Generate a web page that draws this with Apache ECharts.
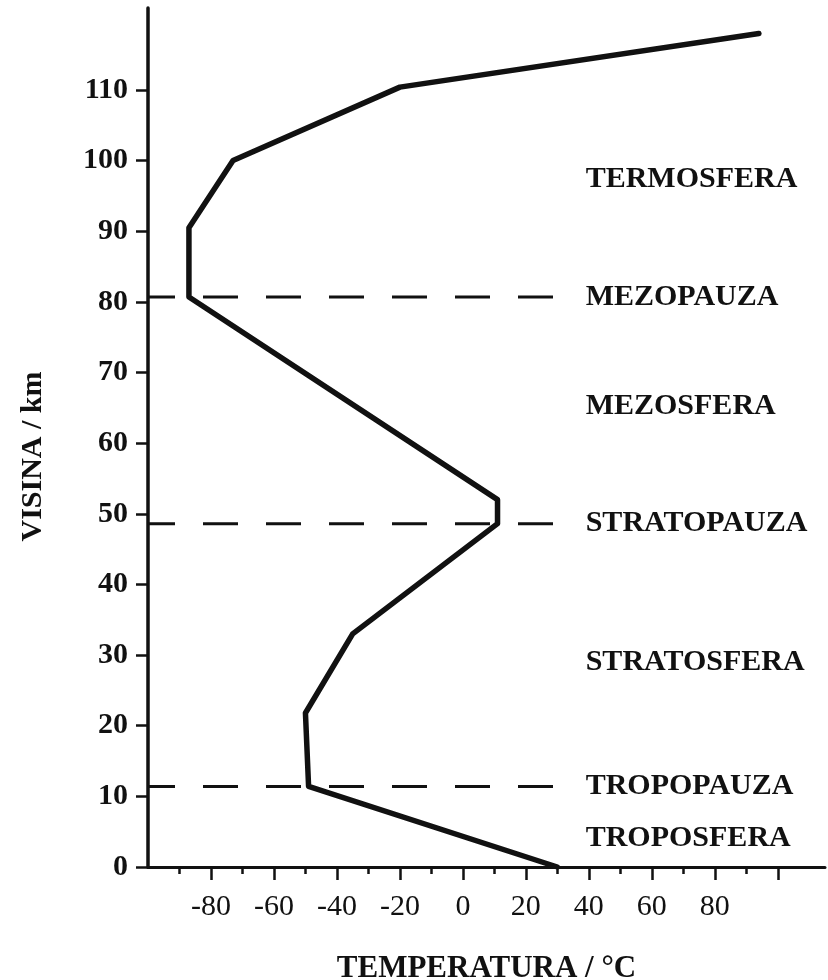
<!DOCTYPE html>
<html><head><meta charset="utf-8">
<script src="https://cdn.jsdelivr.net/npm/echarts@6/dist/echarts.min.js"></script>
<style>html,body{margin:0;padding:0;background:#fff}#c{width:828px;height:980px}</style>
</head><body><div id="c"></div>
<script>
// Temperature profile (°C) vs altitude (km)
const temperature = [30, -49, -50, -35, 11, 11, -87, -87, -73, -20, 94];
const altitude    = [0, 11.4, 21.8, 33, 48.6, 52, 80.7, 90.5, 100, 110.4, 118];

// Boundary (pause) lines
const pauseNames     = ['TROPOPAUZA', 'STRATOPAUZA', 'MEZOPAUZA'];
const pauseAltitudes = [11.4, 48.6, 80.7];

// Layer names
const layerNames     = ['TROPOSFERA', 'STRATOSFERA', 'MEZOSFERA', 'TERMOSFERA'];
const layerAltitudes = [4.1, 29, 65.2, 97.3];

// Ticks and labels
const yTicks      = [0, 10, 20, 30, 40, 50, 60, 70, 80, 90, 100, 110];
const xMinorTicks = [-90, -70, -50, -30, -10, 10, 30, 50, 70, 90];
const xMajorTicks = [-80, -60, -40, -20, 0, 20, 40, 60, 80, 100];
const xLabels     = [-80, -60, -40, -20, 0, 20, 40, 60, 80];

const FONT = "'Liberation Serif','Times New Roman',serif";
const INK = '#111';
const X_MIN = -100, X_MAX = 115, Y_MIN = 0, Y_MAX = 121.6;
const PAUSE_LINE_END = 34;
const LABEL_X = 39;

const chart = echarts.init(document.getElementById('c'), null, {renderer: 'canvas'});

const pauseSeries = pauseAltitudes.map((a, i) => ({
  type: 'line',
  name: pauseNames[i],
  xAxisIndex: 0, yAxisIndex: 0,
  data: [[X_MIN, a], [PAUSE_LINE_END, a]],
  showSymbol: false, symbol: 'none', silent: true,
  lineStyle: {color: INK, width: 3, type: [35, 28], dashOffset: 8},
  z: 2
}));

const labelData = pauseNames.map((n, i) => ({name: n, value: [LABEL_X, pauseAltitudes[i]]}))
  .concat(layerNames.map((n, i) => ({name: n, value: [LABEL_X, layerAltitudes[i]]})));

chart.setOption({
  backgroundColor: '#fff',
  animation: false,
  grid: {left: 148, right: 3, top: 8, bottom: 113, containLabel: false, outerBoundsMode: 'none'},
  xAxis: [{
    type: 'value', min: X_MIN, max: X_MAX, interval: 10, position: 'bottom',
    axisLine: {show: true, onZero: false, lineStyle: {color: INK, width: 3}},
    axisTick: {show: true, customValues: xMinorTicks, length: 7, lineStyle: {color: INK, width: 2.5}},
    axisLabel: {show: false},
    splitLine: {show: false}
  }, {
    type: 'value', min: X_MIN, max: X_MAX, interval: 10, position: 'bottom',
    axisLine: {show: false, onZero: false},
    axisTick: {show: true, customValues: xMajorTicks, length: 13, lineStyle: {color: INK, width: 2.5}},
    axisLabel: {show: true, customValues: xLabels, margin: 25, color: INK,
      fontFamily: FONT, fontSize: 30, fontWeight: 'normal'},
    splitLine: {show: false},
    name: 'TEMPERATURA / °C', nameLocation: 'middle', nameGap: 86,
    nameTextStyle: {color: INK, fontFamily: FONT, fontSize: 31, fontWeight: 'bold'}
  }],
  yAxis: [{
    type: 'value', min: Y_MIN, max: Y_MAX, interval: 10,
    axisLine: {show: true, onZero: false, lineStyle: {color: INK, width: 3.5}},
    axisTick: {show: true, customValues: yTicks, length: 12, lineStyle: {color: INK, width: 2.5}},
    axisLabel: {show: true, customValues: yTicks, margin: 20, color: INK,
      fontFamily: FONT, fontSize: 30, fontWeight: 'bold'},
    splitLine: {show: false},
    name: 'VISINA / km', nameLocation: 'middle', nameGap: 100, nameRotate: 90,
    nameTextStyle: {color: INK, fontFamily: FONT, fontSize: 30, fontWeight: 'bold', padding: [0, 38, 0, 0]}
  }],
  series: [{
    type: 'line',
    name: 'Temperatura',
    xAxisIndex: 0, yAxisIndex: 0,
    data: temperature.map((t, i) => [t, altitude[i]]),
    showSymbol: false, symbol: 'none',
    lineStyle: {color: INK, width: 5.5, join: 'round', cap: 'round'},
    z: 3
  }].concat(pauseSeries).concat([{
    type: 'scatter',
    name: 'labels',
    xAxisIndex: 0, yAxisIndex: 0,
    data: labelData,
    symbolSize: 0, silent: true,
    itemStyle: {opacity: 1, color: INK},
    label: {show: true, position: 'right', distance: 0, formatter: p => p.name,
      color: INK, fontFamily: FONT, fontSize: 30, fontWeight: 'bold'}
  }])
});
</script></body></html>
